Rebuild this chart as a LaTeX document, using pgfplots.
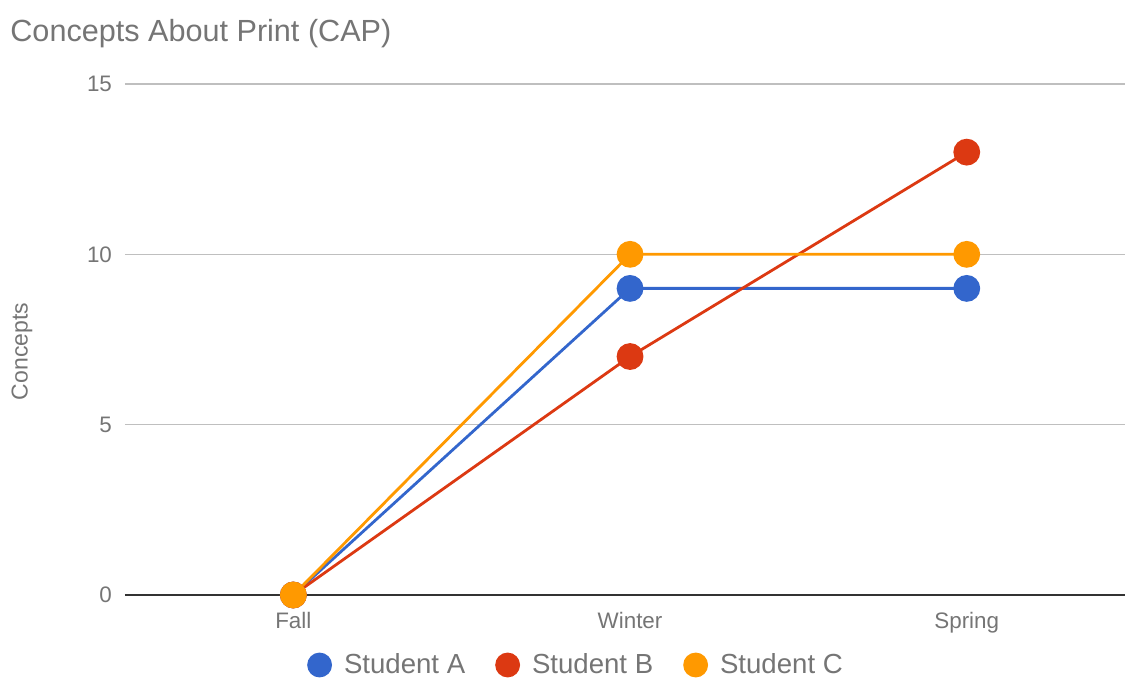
\documentclass[border=0pt]{standalone}
\usepackage{fontspec}
\setmainfont{Liberation Sans}
\usepackage{pgfplots}
\pgfplotsset{compat=1.18}
\usetikzlibrary{calc}
\definecolor{cA}{HTML}{3366CC}
\definecolor{cB}{HTML}{DC3912}
\definecolor{cC}{HTML}{FF9900}
\definecolor{txt}{HTML}{757575}
\definecolor{grid}{HTML}{CCCCCC}
\definecolor{base}{HTML}{333333}
\begin{document}
\begin{tikzpicture}
\begin{axis}[
  name=ax,
  scale only axis,
  width=500pt, height=255.5pt,
  xmin=-0.5, xmax=2.47,
  ymin=0, ymax=15,
  xtick={0,1,2},
  xticklabels={Fall,Winter,Spring},
  ytick={0,5,10,15},
  ymajorgrids, xmajorgrids=false,
  grid style={grid, line width=0.6pt},
  axis line style={draw=none},
  major tick length=0pt,
  tick style={draw=none},
  /pgf/number format/assume math mode=true,
  ticklabel style={text=txt, font=\fontsize{11.2pt}{13pt}\selectfont},
  yticklabel style={xshift=-3pt},
  xticklabel style={yshift=-5pt},
  clip=false,
  legend columns=3,
  legend style={draw=none, fill=none, at={(rel axis cs:0.5,0)}, anchor=center,
    xshift=-24pt, yshift=-35pt,
    font=\fontsize{13.8pt}{16pt}\selectfont, text=txt,
    /tikz/every odd column/.append style={column sep=4pt},
    /tikz/every even column/.append style={column sep=13pt}},
  legend image code/.code={\fill (0pt,0pt) circle (5.5pt);},
]
\draw[base, line width=0.9pt] (rel axis cs:0,0) -- (rel axis cs:1,0);
\addplot[cA, line width=1.4pt, mark=*, mark size=6pt] coordinates {(0,0) (1,9) (2,9)};
\addlegendentry{Student A}
\addplot[cB, line width=1.4pt, mark=*, mark size=6pt] coordinates {(0,0) (1,7) (2,13)};
\addlegendentry{Student B}
\addplot[cC, line width=1.4pt, mark=*, mark size=6pt] coordinates {(0,0) (1,10) (2,10)};
\addlegendentry{Student C}
\end{axis}
\node[anchor=base west, inner sep=0pt, text=txt, font=\fontsize{15.3pt}{18pt}\selectfont] at ($(ax.north west)+(-57.5pt,21pt)$) {Concepts About Print (CAP)};
\node[rotate=90, text=txt, font=\fontsize{11.5pt}{14pt}\selectfont] at ($(ax.south west)!0.5!(ax.north west)+(-51.5pt,-6pt)$) {Concepts};
\pgfresetboundingbox
\path ($(ax.south west)+(-62.5pt,-42.5pt)$) rectangle ($(ax.north east)+(0pt,42pt)$);
\end{tikzpicture}
\end{document}
